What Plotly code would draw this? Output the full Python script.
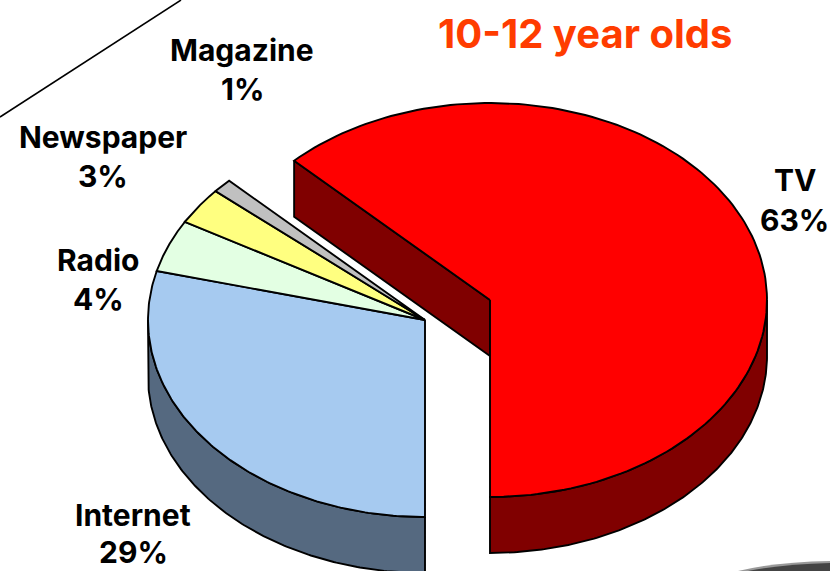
import numpy as np
import plotly.graph_objects as go

categories = ["TV", "Internet", "Radio", "Newspaper", "Magazine"]
values = [62.5, 29.0, 4.3, 3.05, 1.15]
percent_labels = ["63%", "29%", "4%", "3%", "1%"]
top_colors = ["#FF0000", "#A6CAF0", "#E3FFE3", "#FFFF80", "#C0C0C0"]
wall_colors = {"TV": "#800000", "Internet": "#556980"}
title_text = "10-12 year olds"

W, H = 830, 571
RX, RY, DEPTH = 277, 197, 56
CENTERS = {"TV": (490, 300), "rest": (425, 320)}
NAME_POS = {"TV": (795, 180), "Internet": (133, 515), "Radio": (98, 260),
            "Newspaper": (103, 137), "Magazine": (242, 50)}
PCT_POS = {"TV": (794, 220), "Internet": (133, 552), "Radio": (98, 299),
           "Newspaper": (103, 176), "Magazine": (242, 89)}
FONT = "Inter"
LW = 1.9

total = sum(values)
spans = [360 * v / total for v in values]
start = 180 - spans[0]
angles = np.cumsum([start] + spans)


def arc(c, a0, a1, dy=0):
    t = np.radians(np.linspace(a0, a1, 160))
    return c[0] + RX * np.sin(t), c[1] + dy - RY * np.cos(t)


def poly(fig, xs, ys, color):
    fig.add_trace(go.Scatter(x=np.r_[xs, xs[0]], y=np.r_[ys, ys[0]], mode="lines",
                             fill="toself", fillcolor=color,
                             line=dict(color="black", width=LW, shape="linear"),
                             hoverinfo="skip", showlegend=False))


fig = go.Figure()

# TV cut face and rim wall
c = CENTERS["TV"]
ax, ay = arc(c, angles[0], angles[0])
poly(fig, np.array([ax[0], c[0], c[0], ax[0]]),
     np.array([ay[0], c[1], c[1] + DEPTH, ay[0] + DEPTH]), wall_colors["TV"])
ux, uy = arc(c, 90, 180)
lx, ly = arc(c, 180, 90, DEPTH)
poly(fig, np.r_[ux, lx], np.r_[uy, ly], wall_colors["TV"])

# Internet rim wall
c = CENTERS["rest"]
ux, uy = arc(c, 180, 270)
lx, ly = arc(c, 270, 180, DEPTH)
poly(fig, np.r_[ux, lx], np.r_[uy, ly], wall_colors["Internet"])

# top faces
for i, cat in enumerate(categories):
    c = CENTERS["TV"] if cat == "TV" else CENTERS["rest"]
    x, y = arc(c, angles[i], angles[i + 1])
    poly(fig, np.r_[c[0], x], np.r_[c[1], y], top_colors[i])

label_font = dict(family=FONT, size=30, color="black", weight=700)
annotations = []
for cat, pct in zip(categories, percent_labels):
    annotations.append(dict(x=NAME_POS[cat][0], y=NAME_POS[cat][1], xref="x", yref="y",
                            text=cat, showarrow=False, font=label_font))
    annotations.append(dict(x=PCT_POS[cat][0], y=PCT_POS[cat][1], xref="x", yref="y",
                            text=pct, showarrow=False, font=label_font))
annotations.append(dict(x=585, y=33, xref="x", yref="y", text=title_text, showarrow=False,
                        font=dict(family=FONT, size=40, color="#FF3C00", weight=700)))

shapes = [
    dict(type="line", x0=0, y0=117, x1=181, y1=0, xref="x", yref="y",
         line=dict(color="black", width=1.5)),
    dict(type="path", path="M 738 571 Q 775 562 830 561 L 830 571 Z", xref="x", yref="y",
         fillcolor="#999999", line=dict(width=0), layer="below"),
    dict(type="path", path="M 748 571 Q 785 564 830 563 L 830 571 Z", xref="x", yref="y",
         fillcolor="#444444", line=dict(width=0), layer="below"),
]

fig.update_layout(
    width=W, height=H, margin=dict(l=0, r=0, t=0, b=0),
    paper_bgcolor="white", plot_bgcolor="white", showlegend=False,
    xaxis=dict(range=[0, W], visible=False, fixedrange=True),
    yaxis=dict(range=[H, 0], visible=False, fixedrange=True),
    annotations=annotations, shapes=shapes,
)
fig.write_html("out.html", config={"displayModeBar": False},
               post_script="document.body.style.margin='0';document.body.style.overflow='hidden';")
